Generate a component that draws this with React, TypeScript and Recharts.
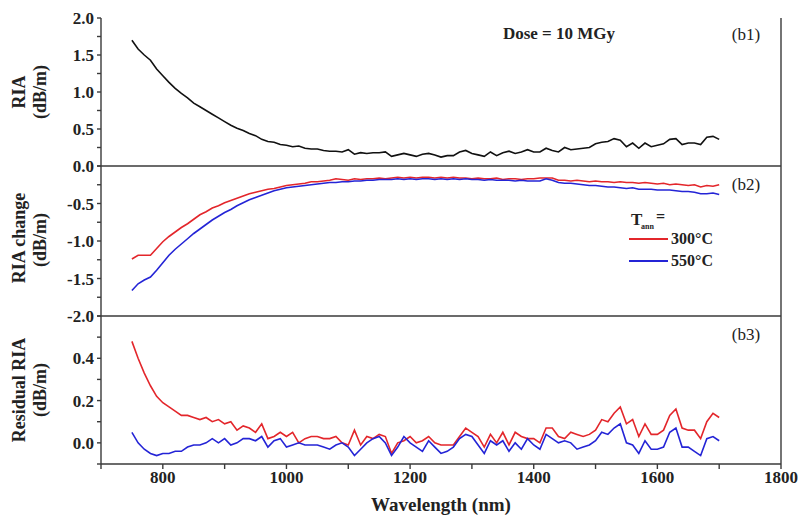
import React from "react";
import { LineChart, Line, XAxis, YAxis } from "recharts";

const wavelength = [
  750, 760, 770, 780, 790, 800, 810, 820, 830, 840,
  850, 860, 870, 880, 890, 900, 910, 920, 930, 940,
  950, 960, 970, 980, 990, 1000, 1010, 1020, 1030, 1040,
  1050, 1060, 1070, 1080, 1090, 1100, 1110, 1120, 1130, 1140,
  1150, 1160, 1170, 1180, 1190, 1200, 1210, 1220, 1230, 1240,
  1250, 1260, 1270, 1280, 1290, 1300, 1310, 1320, 1330, 1340,
  1350, 1360, 1370, 1380, 1390, 1400, 1410, 1420, 1430, 1440,
  1450, 1460, 1470, 1480, 1490, 1500, 1510, 1520, 1530, 1540,
  1550, 1560, 1570, 1580, 1590, 1600, 1610, 1620, 1630, 1640,
  1650, 1660, 1670, 1680, 1690, 1700,
];

// (b1) RIA, dose 10 MGy
const ria = [
  1.7, 1.58, 1.5, 1.43, 1.31, 1.22, 1.13, 1.05, 0.98, 0.92,
  0.85, 0.8, 0.75, 0.7, 0.65, 0.6, 0.55, 0.51, 0.48, 0.44,
  0.41, 0.36, 0.33, 0.32, 0.29, 0.28, 0.26, 0.27, 0.24, 0.23,
  0.23, 0.21, 0.2, 0.2, 0.19, 0.22, 0.16, 0.18, 0.17, 0.18,
  0.18, 0.19, 0.13, 0.15, 0.17, 0.15, 0.13, 0.16, 0.17, 0.15,
  0.12, 0.14, 0.14, 0.19, 0.21, 0.17, 0.15, 0.13, 0.19, 0.14,
  0.18, 0.2, 0.17, 0.19, 0.22, 0.19, 0.19, 0.24, 0.21, 0.19,
  0.25, 0.22, 0.23, 0.24, 0.25, 0.3, 0.32, 0.33, 0.37, 0.35,
  0.26, 0.31, 0.24, 0.31, 0.26, 0.28, 0.3, 0.36, 0.37, 0.29,
  0.31, 0.31, 0.29, 0.39, 0.4, 0.36,
];

// (b2) RIA change after annealing
const change300 = [
  -1.24, -1.19, -1.19, -1.19, -1.1, -1.01, -0.94, -0.88, -0.82, -0.77,
  -0.71, -0.65, -0.61, -0.56, -0.53, -0.49, -0.46, -0.43, -0.4, -0.37,
  -0.35, -0.33, -0.31, -0.3, -0.28, -0.26, -0.25, -0.24, -0.23, -0.21,
  -0.21, -0.2, -0.19, -0.17, -0.18, -0.19, -0.17, -0.18, -0.17, -0.17,
  -0.16, -0.17, -0.16, -0.15, -0.16, -0.15, -0.16, -0.15, -0.15, -0.16,
  -0.15, -0.16, -0.15, -0.16, -0.16, -0.17, -0.16, -0.17, -0.17, -0.16,
  -0.18, -0.17, -0.17, -0.18, -0.17, -0.17, -0.16, -0.16, -0.16, -0.19,
  -0.19, -0.2, -0.19, -0.2, -0.21, -0.2, -0.21, -0.21, -0.22, -0.21,
  -0.22, -0.22, -0.23, -0.22, -0.23, -0.24, -0.23, -0.25, -0.24, -0.25,
  -0.26, -0.25, -0.28, -0.26, -0.27, -0.25,
];

const change550 = [
  -1.66, -1.57, -1.52, -1.48, -1.39, -1.29, -1.19, -1.11, -1.04, -0.97,
  -0.9, -0.84, -0.78, -0.72, -0.67, -0.62, -0.58, -0.53, -0.49, -0.45,
  -0.42, -0.39, -0.36, -0.33, -0.31, -0.29, -0.28, -0.27, -0.26, -0.25,
  -0.24, -0.23, -0.22, -0.22, -0.21, -0.21, -0.2, -0.2, -0.19, -0.19,
  -0.18, -0.18, -0.18, -0.17, -0.18, -0.17, -0.18, -0.17, -0.17, -0.18,
  -0.17, -0.18, -0.17, -0.18, -0.17, -0.18, -0.18, -0.19, -0.18, -0.19,
  -0.19, -0.19, -0.2, -0.19, -0.2, -0.2, -0.2, -0.17, -0.19, -0.22,
  -0.23, -0.23, -0.24, -0.25, -0.26, -0.26, -0.27, -0.28, -0.28, -0.29,
  -0.3, -0.29, -0.31, -0.31, -0.31, -0.32, -0.32, -0.32, -0.33, -0.34,
  -0.34, -0.35, -0.37, -0.37, -0.36, -0.38,
];

// (b3) residual RIA
const residual300 = [
  0.48, 0.4, 0.33, 0.27, 0.22, 0.19, 0.17, 0.15, 0.13, 0.13,
  0.12, 0.11, 0.12, 0.1, 0.11, 0.09, 0.1, 0.06, 0.08, 0.07,
  0.05, 0.09, 0.02, 0.03, 0.05, 0.03, 0.05, 0.0, 0.02, 0.03,
  0.03, 0.02, 0.02, 0.03, 0.0, -0.01, 0.06, -0.01, 0.03, 0.02,
  0.04, 0.03, -0.05, 0.0, 0.01, 0.03, 0.0, 0.01, 0.03, 0.0,
  -0.01, -0.01, -0.01, 0.03, 0.07, 0.05, 0.03, -0.02, 0.04, 0.0,
  0.05, -0.01, 0.05, 0.03, 0.02, 0.02, 0.0, 0.07, 0.07, 0.03,
  0.02, 0.05, 0.04, 0.03, 0.04, 0.06, 0.11, 0.1, 0.14, 0.17,
  0.09, 0.11, 0.03, 0.09, 0.04, 0.04, 0.06, 0.13, 0.16, 0.07,
  0.06, 0.06, 0.02, 0.1, 0.14, 0.12,
];

const residual550 = [
  0.05, 0.0, -0.03, -0.05, -0.06, -0.05, -0.05, -0.04, -0.04, -0.02,
  -0.01, -0.01, 0.0, 0.02, 0.0, 0.02, -0.01, 0.0, 0.02, 0.02,
  0.01, 0.03, -0.02, 0.01, 0.02, -0.02, -0.01, 0.0, -0.01, -0.01,
  -0.01, -0.02, -0.03, -0.01, 0.0, -0.02, -0.06, -0.03, 0.0, 0.02,
  0.03, 0.0, -0.06, -0.02, 0.03, 0.0, -0.02, -0.04, 0.01, -0.02,
  -0.05, -0.04, -0.02, 0.02, 0.04, 0.03, -0.01, -0.05, 0.01, -0.01,
  0.01, -0.04, 0.0, -0.03, 0.02, -0.01, -0.03, 0.04, 0.02, 0.0,
  0.01, 0.0, -0.03, -0.02, -0.01, 0.01, 0.05, 0.04, 0.07, 0.09,
  0.0, -0.01, -0.05, 0.01, -0.03, -0.03, -0.02, 0.05, 0.07, -0.02,
  -0.02, -0.04, -0.06, 0.02, 0.03, 0.01,
];

const xTicks = [700, 800, 900, 1000, 1100, 1200, 1300, 1400, 1500, 1600, 1700, 1800];
const ticksB1 = [0, 0.25, 0.5, 0.75, 1, 1.25, 1.5, 1.75, 2];
const ticksB2 = [-2, -1.75, -1.5, -1.25, -1, -0.75, -0.5, -0.25, 0];
const ticksB3 = [-0.1, 0, 0.1, 0.2, 0.3, 0.4, 0.5, 0.6];

const data = wavelength.map((w, i) => ({
  w,
  ria: ria[i],
  c300: change300[i],
  c550: change550[i],
  r300: residual300[i],
  r550: residual550[i],
}));

const SERIF = "'Liberation Serif', 'Times New Roman', serif";
const AXIS = "#3a3a3a";
const RED = "#e3262b";
const BLUE = "#2424d6";
const W = 801;

const tickStyle = { fontFamily: SERIF, fontWeight: 700, fontSize: 17, fill: "#222" };

const fmtB1 = (v: number) => (Math.round(v * 100) % 50 === 0 ? v.toFixed(1) : "");
// 0.0 is already labelled by the panel above
const fmtB2 = (v: number) => (v !== 0 && Math.round(v * 100) % 50 === 0 ? v.toFixed(1) : "");
const fmtB3 = (v: number) => {
  const t = Math.round(v * 10);
  return t >= 0 && t % 2 === 0 && t <= 4 ? v.toFixed(1) : "";
};
const xLabel = (v: number) => (v % 200 === 0 ? String(v) : "");

function Frame({
  ticks,
  domain,
  fmt,
  bottomHeight,
  showX,
}: {
  ticks: number[];
  domain: [number, number];
  fmt: (v: number) => string;
  bottomHeight: number;
  showX: boolean;
}) {
  return [
    <XAxis
      key="xb"
      xAxisId="b"
      dataKey="w"
      type="number"
      domain={[700, 1800]}
      ticks={xTicks}
      tickFormatter={xLabel}
      tick={showX ? tickStyle : false}
      tickSize={5}
      tickMargin={2}
      height={bottomHeight}
      stroke={AXIS}
      strokeWidth={1.4}
      interval={0}
    />,
    <XAxis
      key="xt"
      xAxisId="t"
      orientation="top"
      dataKey="w"
      type="number"
      domain={[700, 1800]}
      tick={false}
      tickLine={false}
      height={0}
      stroke={AXIS}
      strokeWidth={1.4}
    />,
    <YAxis
      key="yl"
      yAxisId="l"
      domain={domain}
      ticks={ticks}
      tickFormatter={fmt}
      tick={tickStyle}
      tickSize={4}
      tickMargin={3}
      width={101}
      stroke={AXIS}
      strokeWidth={1.4}
      interval={0}
      allowDataOverflow
    />,
    <YAxis
      key="yr"
      yAxisId="r"
      orientation="right"
      domain={domain}
      ticks={ticks}
      tick={false}
      tickSize={4}
      width={20}
      stroke={AXIS}
      strokeWidth={1.4}
      interval={0}
    />,
  ];
}

export default function App() {
  return (
    <div style={{ position: "absolute", left: 0, top: 0, width: W, height: 523, background: "#fff" }}>
      <div style={{ position: "absolute", left: 0, top: 0 }}>
        <LineChart width={W} height={180} data={data} margin={{ top: 18, right: 0, bottom: 0, left: 0 }}>
          {Frame({ ticks: ticksB1, domain: [0, 2], fmt: fmtB1, bottomHeight: 14, showX: false })}
          <Line xAxisId="b" yAxisId="l" dataKey="ria" stroke="#111" strokeWidth={1.6} dot={false} isAnimationActive={false} />
        </LineChart>
      </div>
      <div style={{ position: "absolute", left: 0, top: 156 }}>
        <LineChart width={W} height={175} data={data} margin={{ top: 10, right: 0, bottom: 0, left: 0 }}>
          {Frame({ ticks: ticksB2, domain: [-2, 0], fmt: fmtB2, bottomHeight: 15, showX: false })}
          <Line xAxisId="b" yAxisId="l" dataKey="c300" stroke={RED} strokeWidth={1.6} dot={false} isAnimationActive={false} />
          <Line xAxisId="b" yAxisId="l" dataKey="c550" stroke={BLUE} strokeWidth={1.6} dot={false} isAnimationActive={false} />
        </LineChart>
      </div>
      <div style={{ position: "absolute", left: 0, top: 306 }}>
        <LineChart width={W} height={217} data={data} margin={{ top: 10, right: 0, bottom: 0, left: 0 }}>
          {Frame({ ticks: ticksB3, domain: [-0.1, 0.6], fmt: fmtB3, bottomHeight: 59, showX: true })}
          <Line xAxisId="b" yAxisId="l" dataKey="r300" stroke={RED} strokeWidth={1.6} dot={false} isAnimationActive={false} />
          <Line xAxisId="b" yAxisId="l" dataKey="r550" stroke={BLUE} strokeWidth={1.6} dot={false} isAnimationActive={false} />
        </LineChart>
      </div>
      <svg
        width={W}
        height={523}
        style={{ position: "absolute", left: 0, top: 0, pointerEvents: "none" }}
        fontFamily={SERIF}
      >
        <g fontWeight={700} fontSize={18} fill="#222" textAnchor="middle" dominantBaseline="central">
          <text transform="translate(19,92) rotate(-90)">RIA</text>
          <text transform="translate(40,92) rotate(-90)">(dB/m)</text>
          <text transform="translate(19,238) rotate(-90)">RIA change</text>
          <text transform="translate(40,240) rotate(-90)">(dB/m)</text>
          <text transform="translate(19,390) rotate(-90)">Residual RIA</text>
          <text transform="translate(40,390) rotate(-90)">(dB/m)</text>
        </g>
        <text x={441} y={511} textAnchor="middle" fontWeight={700} fontSize={19} fill="#222">
          Wavelength (nm)
        </text>
        <text x={559} y={39} textAnchor="middle" fontWeight={700} fontSize={17} fill="#222">
          Dose = 10 MGy
        </text>
        <g fontSize={17} fill="#222" textAnchor="middle">
          <text x={746} y={40}>(b1)</text>
          <text x={746} y={190}>(b2)</text>
          <text x={746} y={340}>(b3)</text>
        </g>
        <g fontWeight={700} fill="#222">
          <text x={631} y={225} fontSize={17}>T</text>
          <text x={641} y={229} fontSize={8}>ann</text>
          <text x={656} y={222} fontSize={16}>=</text>
          <line x1={629} x2={668} y1={239} y2={239} stroke={RED} strokeWidth={1.8} />
          <text x={671} y={244} fontSize={16}>300°C</text>
          <line x1={629} x2={668} y1={261} y2={261} stroke={BLUE} strokeWidth={1.8} />
          <text x={671} y={266} fontSize={16}>550°C</text>
        </g>
      </svg>
    </div>
  );
}
